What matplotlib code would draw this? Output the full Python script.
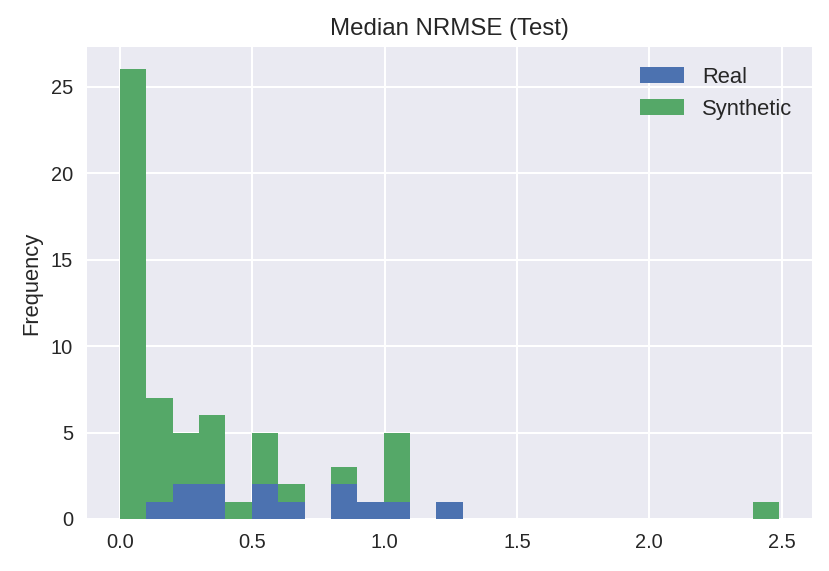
import numpy as np
import matplotlib
matplotlib.use('Agg')
import matplotlib.pyplot as plt

plt.style.use('seaborn-v0_8')

# histogram bins: 25 bins between min and max of the NRMSE values
bin_lo = 0.0
bin_hi = 2.49
n_bins = 25

# counts per bin
real_counts = [0, 1, 2, 2, 0, 2, 1, 0, 2, 1, 1, 0, 1,
               0, 0, 0, 0, 0, 0, 0, 0, 0, 0, 0, 0]
synthetic_counts = [26, 6, 3, 4, 1, 3, 1, 0, 1, 0, 4, 0, 0,
                    0, 0, 0, 0, 0, 0, 0, 0, 0, 0, 0, 1]
labels = ['Real', 'Synthetic']

edges = np.linspace(bin_lo, bin_hi, n_bins + 1)
centers = (edges[:-1] + edges[1:]) / 2

fig, ax = plt.subplots(figsize=(829 / 144, 571 / 144), dpi=144)
ax.hist([centers, centers], bins=edges,
        weights=[real_counts, synthetic_counts],
        stacked=True, label=labels, color=['#4C72B0', '#55A868'])
ax.set_title('Median NRMSE (Test)')
ax.set_ylabel('Frequency')
ax.legend(loc='upper right', fontsize=11)
fig.subplots_adjust(left=87 / 829, right=812 / 829,
                    top=1 - 47 / 571, bottom=1 - 519 / 571)
fig.savefig('out.png', dpi=144)
